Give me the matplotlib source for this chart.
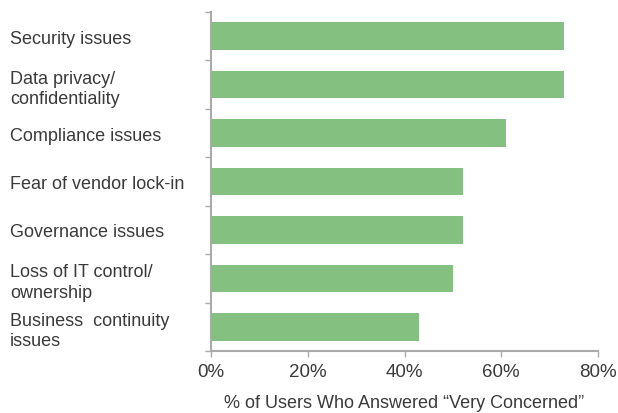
import matplotlib.pyplot as plt
from matplotlib.ticker import FixedLocator

plt.rcParams['font.family'] = ['Liberation Sans', 'DejaVu Sans']

# concerns, top to bottom
labels = ["Security issues", "Data privacy/\nconfidentiality", "Compliance issues",
          "Fear of vendor lock-in", "Governance issues",
          "Loss of IT control/\nownership", "Business  continuity\nissues"]
values = [73, 73, 61, 52, 52, 50, 43]
xticks = [0, 20, 40, 60, 80]
xtick_labels = ["0%", "20%", "40%", "60%", "80%"]

fig = plt.figure(figsize=(6.18, 4.14), dpi=100)
ax = fig.add_axes([211 / 618, 1 - 352 / 414, 387 / 618, 339 / 414])

ypos = list(range(len(labels)))
ax.barh(ypos, values, height=0.57, color="#84c07f")
ax.set_ylim(len(labels) - 0.5, -0.5)
ax.set_xlim(0, 80)

grey = "#aaaaaa"
txt = "#3a3a3a"
for s in ["top", "right"]:
    ax.spines[s].set_visible(False)
for s in ["left", "bottom"]:
    ax.spines[s].set_color(grey)
    ax.spines[s].set_linewidth(1.5)

ax.set_xticks(xticks)
ax.set_xticklabels(xtick_labels, fontsize=13.5, color=txt)
ax.tick_params(axis="x", length=4, width=1, color=grey, pad=5)

ax.set_yticks(ypos)
ax.set_yticklabels(labels, fontsize=13, color=txt, ha="left", linespacing=1.25)
ax.tick_params(axis="y", which="major", length=0, pad=201 * 0.72)
ax.yaxis.set_minor_locator(FixedLocator([i - 0.5 for i in range(len(labels) + 1)]))
ax.tick_params(axis="y", which="minor", length=4, width=1, color=grey)

ax.set_xlabel("% of Users Who Answered \u201cVery Concerned\u201d", fontsize=13,
              color=txt, labelpad=10)

fig.savefig("out.png", dpi=100)
